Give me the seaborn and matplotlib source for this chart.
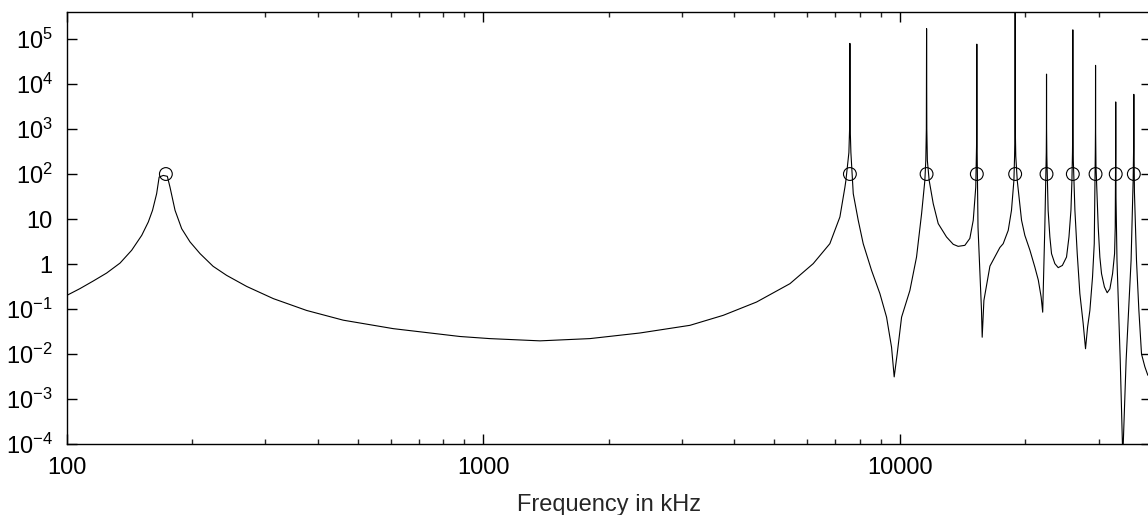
import matplotlib
matplotlib.use("Agg")
import pandas as pd
import matplotlib.pyplot as plt
import matplotlib.ticker as mticker
import seaborn as sns

# response curve (frequency in kHz, amplitude)
freq_khz = [
    # low resonance
    100, 107.6, 115.8, 124.7, 134.3, 143.2, 151.4, 157, 160.7, 164.4,
    166.7, 170.5, 174.4, 177, 182, 188.8, 197.7, 209, 224.6, 242,
    270.5, 313.4, 376.6, 461, 608, 787, 879, 1036, 1368, 1803,
    2376, 3134, 3767, 4529, 5447, 6194, 6790, 7178, 7380, 7420,
    7544, 7573,
    # peak 1
    7586, 7599, 7628, 7728, 7943, 8165, 8551, 8954, 9290, 9550,
    9690, 9852, 10094, 10568, 10964, 11275, 11480, 11540, 11575,
    # peak 2
    11590, 11605, 11640, 11757, 12023, 12360, 12940, 13430, 13800, 14320,
    14720, 15000, 15210, 15275, 15290,
    # peak 3
    15300, 15310, 15335, 15400, 15700, 15760, 15910, 16450, 17380, 17700,
    18200, 18530, 18780, 18850, 18895,
    # peak 4
    18910, 18925, 18975, 19130, 19590, 19950, 20520, 21080, 21490, 21830,
    22020, 22280, 22400, 22460, 22480,
    # peak 5
    22490, 22500, 22530, 22690, 22910, 23120, 23550, 23990, 24550, 25120,
    25460, 25740, 25880, 25960, 25995,
    # peak 6
    26010, 26025, 26080, 26310, 26650, 27040, 27540, 27900, 28220, 28580,
    29000, 29280, 29400, 29450, 29478,
    # peak 7
    29490, 29502, 29560, 29930, 30200, 30480, 30970, 31450, 31920, 32400,
    32760, 32880, 32930, 32955,
    # peak 8
    32970, 32985, 33020, 33200, 33800, 34280, 34920, 35890, 36300, 36400,
    # peak 9
    36440, 36480, 36560, 36980, 37470, 38020, 38730, 39360, 40000,
]
amplitude = [
    0.20, 0.284, 0.419, 0.63, 1.05, 2.02, 4.34, 8.6, 15.6, 36.6,
    85.7, 93, 89, 51, 15.6, 6.1, 3.1, 1.7, 0.89, 0.56,
    0.317, 0.17, 0.0929, 0.0565, 0.0366, 0.0277, 0.0245, 0.022, 0.0196, 0.022,
    0.0293, 0.0434, 0.0724, 0.143, 0.366, 1.02, 2.83, 11.1, 51, 72,
    300, 1000,
    8.0e4, 1000, 300, 36.6, 9.37, 2.83, 0.72, 0.22, 0.0659, 0.0141,
    0.0031, 0.0101, 0.0659, 0.258, 1.43, 13.2, 72, 200, 1000,
    1.7e5, 1000, 200, 72, 22, 7.9, 3.99, 2.74, 2.47, 2.6,
    3.7, 9.37, 51, 400, 1000,
    7.7e4, 1000, 200, 6.6, 0.093, 0.0236, 0.155, 0.9, 2.33, 2.83,
    5.6, 15.6, 72, 250, 1000,
    1.0e6, 1000, 250, 72, 9.37, 4.34, 2.02, 0.86, 0.44, 0.185,
    0.085, 6.6, 72, 300, 1000,
    1.66e4, 1000, 250, 15.6, 4.0, 1.7, 1.02, 0.83, 0.93, 1.43,
    3.99, 15.6, 72, 300, 1000,
    1.6e5, 1000, 200, 15.6, 1.7, 0.22, 0.0477, 0.0131, 0.0397, 0.093,
    0.51, 2.83, 72, 300, 1000,
    2.6e4, 1000, 150, 6.6, 1.43, 0.61, 0.31, 0.23, 0.28, 0.61,
    1.7, 6.6, 72, 400,
    4.0e3, 400, 30, 1.2, 0.0073, 5e-5, 0.0073, 1.2, 72, 400,
    5.9e3, 400, 40, 1.2, 0.093, 0.01, 0.0052, 0.0034, 0.0030,
]

# resonance markers
res_freq = [173, 7586, 11590, 15300, 18910, 22490, 26010, 29490, 32970, 36440]
res_level = [100] * len(res_freq)

xtick_vals = [100, 1000, 10000]
xtick_labels = ["100", "1000", "10000"]
ytick_vals = [1e-4, 1e-3, 1e-2, 1e-1, 1, 10, 1e2, 1e3, 1e4, 1e5]
ytick_labels = [r"$\mathregular{10^{-4}}$", r"$\mathregular{10^{-3}}$",
                r"$\mathregular{10^{-2}}$", r"$\mathregular{10^{-1}}$",
                "1", "10",
                r"$\mathregular{10^{2}}$", r"$\mathregular{10^{3}}$",
                r"$\mathregular{10^{4}}$", r"$\mathregular{10^{5}}$"]

sns.set_theme(style="ticks")
plt.rcParams["font.family"] = ["Liberation Sans", "DejaVu Sans"]
plt.rcParams["mathtext.fontset"] = "custom"
plt.rcParams["mathtext.rm"] = "Liberation Sans"

fig = plt.figure(figsize=(11.48, 5.15), dpi=100)
ax = fig.add_axes([66.7 / 1148, 1 - 444 / 515, (1150.7 - 66.7) / 1148, (444 - 11.7) / 515])
ax.set_xscale("log")
ax.set_yscale("log")

curve = pd.DataFrame({"freq": freq_khz, "amp": amplitude})
sns.lineplot(data=curve, x="freq", y="amp", color="black", linewidth=0.8,
             estimator=None, sort=False, ax=ax)
sns.scatterplot(x=res_freq, y=res_level, marker="o", s=85, facecolors="none",
                edgecolors="black", linewidths=0.8, ax=ax, zorder=3)

ax.set_xlim(100, 40000)
ax.set_ylim(1e-4, 4.05e5)

ax.xaxis.set_major_locator(mticker.FixedLocator(xtick_vals))
ax.xaxis.set_major_formatter(mticker.FixedFormatter(xtick_labels))
ax.xaxis.set_minor_locator(mticker.LogLocator(base=10, subs=range(2, 10), numticks=20))
ax.xaxis.set_minor_formatter(mticker.NullFormatter())
ax.yaxis.set_major_locator(mticker.FixedLocator(ytick_vals))
ax.yaxis.set_major_formatter(mticker.FixedFormatter(ytick_labels))
ax.yaxis.set_minor_locator(mticker.NullLocator())

ax.tick_params(which="major", direction="in", length=7, width=1, top=True, right=True,
               labelsize=17, colors="black")
ax.tick_params(which="minor", direction="in", length=3.5, width=1, top=True, right=False)
ax.tick_params(axis="x", pad=9)
ax.tick_params(axis="y", pad=10)
for sp in ax.spines.values():
    sp.set_visible(True)
    sp.set_linewidth(1.0)
    sp.set_color("black")

ax.set_xlabel("Frequency in kHz", fontsize=17, labelpad=11)
ax.set_ylabel("")

fig.savefig("out.png", dpi=100)
